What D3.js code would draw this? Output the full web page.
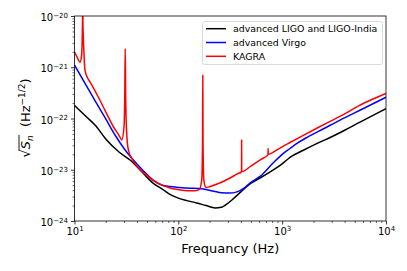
<!DOCTYPE html>
<html>
<head>
<meta charset="utf-8">
<script src="https://cdn.jsdelivr.net/npm/d3@7"></script>
<style>
  body { margin: 0; background: #fff; }
  svg { display: block; font-family: "DejaVu Sans", sans-serif; }
  .domain { display: none; }
</style>
</head>
<body>
<div id="chart"></div>
<script>
// Detector noise curves, amplitude spectral density sqrt(S_n) in Hz^-1/2
const ligoFreq = [10, 13, 16, 20, 27, 35, 45, 57, 70, 83, 100, 121, 150, 185, 226, 260, 290, 330, 400, 490, 612, 800, 1000, 1190, 1600, 2200, 3000, 4000, 5500, 7500, 10000];
const ligoAsd = [1.8e-22, 1.08e-22, 7.2e-23, 4.0e-23, 2.2e-23, 1.5e-23, 8.9e-24, 5.5e-24, 4.2e-24, 3.3e-24, 2.8e-24, 2.5e-24, 2.25e-24, 2.0e-24, 1.8e-24, 1.85e-24, 2.1e-24, 2.6e-24, 3.7e-24, 5.3e-24, 6.9e-24, 9.6e-24, 1.3e-23, 1.75e-23, 2.4e-23, 3.3e-23, 4.4e-23, 5.9e-23, 8.3e-23, 1.15e-22, 1.55e-22];

const virgoFreq = [10, 13, 16, 20, 25, 30, 35, 45, 57, 70, 83, 120, 173, 220, 260, 310, 367, 430, 490, 612, 817, 1000, 1190, 1400, 1740, 2500, 3610, 6000, 10000];
const virgoAsd = [1.1e-21, 4.4e-22, 2.1e-22, 9.8e-23, 4.5e-23, 2.6e-23, 1.75e-23, 1.0e-23, 6.3e-24, 5.0e-24, 4.7e-24, 4.4e-24, 4.2e-24, 3.8e-24, 3.55e-24, 3.5e-24, 3.7e-24, 4.4e-24, 5.5e-24, 7.4e-24, 1.35e-23, 2.0e-23, 2.6e-23, 3.3e-23, 4.3e-23, 6.3e-23, 9.3e-23, 1.55e-22, 2.6e-22];

const kagraFreq = [10, 10.7, 11.3, 11.7, 11.95, 12.0, 12.05, 12.3, 12.6, 13.2, 14.1, 17, 20, 24, 27, 28.5, 30.0, 30.5, 30.8, 31.1, 31.7, 33, 36, 40, 48, 57, 70, 83, 100, 121, 145, 160, 168, 171, 172, 173, 176, 185, 202, 250, 315, 370, 405, 406.5, 407, 407.5, 409, 500, 620, 730, 732, 734, 850, 1000, 1190, 1600, 2200, 3000, 4000, 5500, 7500, 10000];
const kagraAsd = [2.0e-21, 1.5e-21, 1.25e-21, 1.7e-21, 8e-21, 1e-19, 8e-21, 2.2e-21, 9e-22, 6.5e-22, 5.2e-22, 2.6e-22, 1.35e-22, 6.6e-23, 4.6e-23, 3.8e-23, 7e-23, 3e-22, 2.3e-21, 3e-22, 6e-23, 2.45e-23, 1.6e-23, 1.15e-23, 8.3e-24, 6.3e-24, 5.0e-24, 4.4e-24, 4.1e-24, 3.9e-24, 3.9e-24, 4.2e-24, 6.3e-24, 3.2e-23, 7.0e-22, 3.2e-23, 6.3e-24, 4.5e-24, 4.7e-24, 5.5e-24, 6.9e-24, 8.3e-24, 9.1e-24, 9.5e-24, 3.8e-23, 9.5e-24, 9.2e-24, 1.18e-23, 1.58e-23, 1.95e-23, 2.6e-23, 2.0e-23, 2.3e-23, 2.8e-23, 3.4e-23, 4.7e-23, 6.6e-23, 9.1e-23, 1.23e-22, 1.78e-22, 2.4e-22, 3.1e-22];

const seriesNames = ["advanced LIGO and LIGO-India", "advanced Virgo", "KAGRA"];
const seriesColors = ["#000000", "#0000ff", "#ff0000"];
const xMajor = [1e1, 1e2, 1e3, 1e4];
const yMajor = [1e-24, 1e-23, 1e-22, 1e-21, 1e-20];

const width = 407, height = 271;
const plotLeft = 74.5, plotRight = 386, plotTop = 16, plotBottom = 221;

const svg = d3.select('#chart').append('svg')
    .attr('width', width)
    .attr('height', height);

const x = d3.scaleLog().domain([10, 1e4]).range([plotLeft, plotRight]);
const y = d3.scaleLog().domain([1e-24, 1e-20]).range([plotBottom, plotTop]);

svg.append('clipPath').attr('id', 'clip')
  .append('rect')
    .attr('x', plotLeft).attr('y', plotTop)
    .attr('width', plotRight - plotLeft).attr('height', plotBottom - plotTop);

// minor ticks for every decade
const xMinor = [];
for (let e = 1; e < 4; e++) for (let k = 2; k < 10; k++) xMinor.push(k * Math.pow(10, e));
const yMinor = [];
for (let e = -24; e < -20; e++) for (let k = 2; k < 10; k++) yMinor.push(k * Math.pow(10, e));

function powLabel(sel, v) {
    const e = Math.round(Math.log10(v));
    sel.text(null);
    sel.append('tspan').text('10');
    sel.append('tspan')
        .attr('dy', '-0.45em')
        .style('font-size', '7px')
        .text(e < 0 ? '\u2212' + (-e) : e);
}

// x axis
svg.append('g')
    .attr('transform', `translate(0,${plotBottom})`)
    .call(d3.axisBottom(x).tickValues(xMinor).tickSize(2).tickFormat(''))
    .selectAll('line').attr('stroke', '#000').attr('stroke-width', 0.6);

const xg = svg.append('g')
    .attr('transform', `translate(0,${plotBottom})`)
    .call(d3.axisBottom(x).tickValues(xMajor).tickSize(3.5).tickPadding(3));
xg.selectAll('line').attr('stroke', '#000').attr('stroke-width', 0.8);
xg.selectAll('text')
    .attr('fill', '#000')
    .style('font-size', '10px')
    .style('font-family', '"DejaVu Sans", sans-serif')
    .each(function(d) { powLabel(d3.select(this), d); });

// y axis
svg.append('g')
    .attr('transform', `translate(${plotLeft},0)`)
    .call(d3.axisLeft(y).tickValues(yMinor).tickSize(2).tickFormat(''))
    .selectAll('line').attr('stroke', '#000').attr('stroke-width', 0.6);

const yg = svg.append('g')
    .attr('transform', `translate(${plotLeft},0)`)
    .call(d3.axisLeft(y).tickValues(yMajor).tickSize(3.5).tickPadding(3));
yg.selectAll('line').attr('stroke', '#000').attr('stroke-width', 0.8);
yg.selectAll('text')
    .attr('fill', '#000')
    .attr('dy', '0.45em')
    .style('font-size', '10px')
    .style('font-family', '"DejaVu Sans", sans-serif')
    .each(function(d) { powLabel(d3.select(this), d); });

// curves
const line = d3.line()
    .x(d => x(d[0]))
    .y(d => y(d[1]))
    .curve(d3.curveMonotoneX);

const series = [
    d3.zip(ligoFreq, ligoAsd),
    d3.zip(virgoFreq, virgoAsd),
    d3.zip(kagraFreq, kagraAsd)
];

svg.append('g').attr('clip-path', 'url(#clip)')
  .selectAll('path')
  .data(series)
  .join('path')
    .attr('d', line)
    .attr('fill', 'none')
    .attr('stroke', (d, i) => seriesColors[i])
    .attr('stroke-width', 1.5)
    .attr('stroke-linejoin', 'round');

// frame
svg.append('rect')
    .attr('x', plotLeft).attr('y', plotTop)
    .attr('width', plotRight - plotLeft).attr('height', plotBottom - plotTop)
    .attr('fill', 'none')
    .attr('stroke', '#000')
    .attr('stroke-width', 0.8);

// axis labels
svg.append('text')
    .attr('x', (plotLeft + plotRight) / 2)
    .attr('y', 253)
    .attr('text-anchor', 'middle')
    .style('font-size', '13px')
    .text('Frequancy (Hz)');

const yl = svg.append('text')
    .attr('transform', 'translate(30,118) rotate(-90)')
    .attr('text-anchor', 'middle')
    .style('font-size', '13px');
yl.append('tspan').text('\u221A');
yl.append('tspan').style('font-style', 'italic').text('S');
yl.append('tspan').attr('dy', '2.5').style('font-size', '9px').style('font-style', 'italic').text('n');
yl.append('tspan').attr('dy', '-2.5').text('\u00A0 (Hz');
yl.append('tspan').attr('dy', '-5').style('font-size', '9px').text('\u22121/2');
yl.append('tspan').attr('dy', '5').text(')');

// overline of the square root
const yNode = yl.node();
const full = yNode.getComputedTextLength();
const sStart = yNode.getSubStringLength(0, 1);
const sEnd = yNode.getSubStringLength(0, 3);
svg.append('line')
    .attr('transform', 'translate(30,118) rotate(-90)')
    .attr('x1', -full / 2 + sStart - 1.5)
    .attr('x2', -full / 2 + sEnd + 0.5)
    .attr('y1', -11).attr('y2', -11)
    .attr('stroke', '#000')
    .attr('stroke-width', 0.9);

// legend
const legend = svg.append('g').attr('transform', 'translate(202.5,21.5)');
legend.append('rect')
    .attr('width', 180).attr('height', 43)
    .attr('rx', 2)
    .attr('fill', '#fff').attr('fill-opacity', 0.8)
    .attr('stroke', '#d0d0d0')
    .attr('stroke-width', 0.8);
seriesNames.forEach((name, i) => {
    const cy = 7.2 + i * 13.8;
    legend.append('line')
        .attr('x1', 3.5).attr('x2', 23.5)
        .attr('y1', cy).attr('y2', cy)
        .attr('stroke', seriesColors[i])
        .attr('stroke-width', 1.5);
    legend.append('text')
        .attr('x', 30.5).attr('y', cy)
        .attr('dy', '0.35em')
        .style('font-size', '9.4px')
        .text(name);
});
</script>
</body>
</html>
